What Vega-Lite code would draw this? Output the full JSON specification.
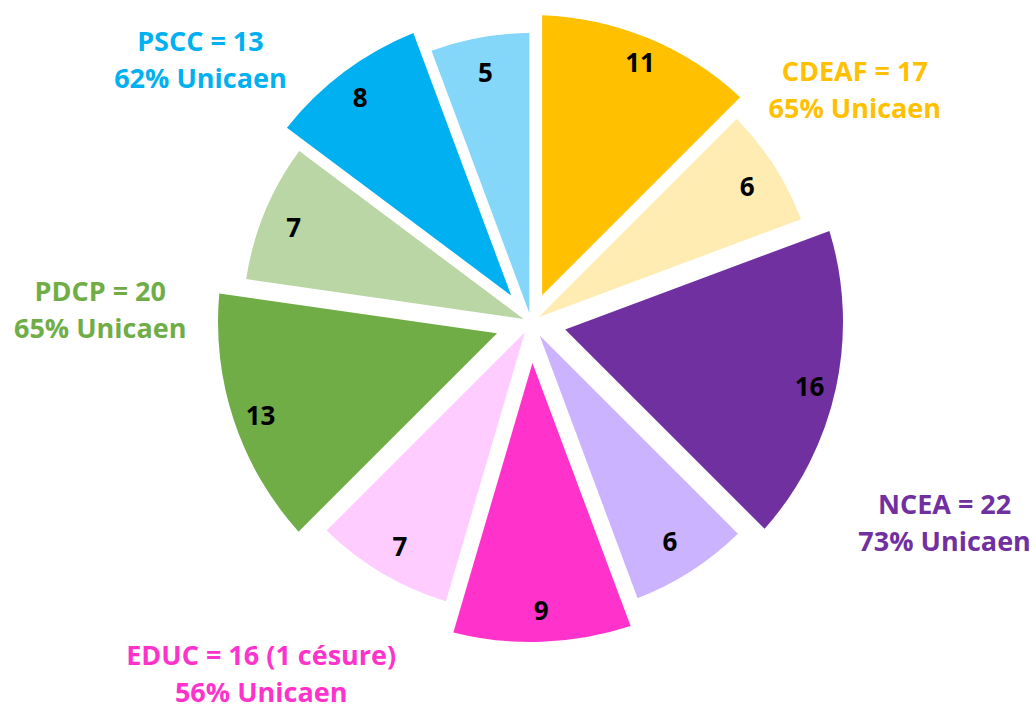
{
  "$schema": "https://vega.github.io/schema/vega-lite/v6.json",
  "width": 1010,
  "height": 644,
  "autosize": "none",
  "padding": {"left": 26, "right": 0, "top": 0, "bottom": 60},
  "background": "white",
  "config": {"view": {"stroke": null}, "text": {"font": "Open Sans", "fontWeight": "bold"}},
  "layer": [
    {
      "data": {"values": [
        {"k": 1, "formation": "CDEAF", "origine": "Unicaen", "part": "CDEAF – Unicaen", "n": 11},
        {"k": 2, "formation": "CDEAF", "origine": "Autre", "part": "CDEAF – Autre", "n": 6},
        {"k": 3, "formation": "NCEA", "origine": "Unicaen", "part": "NCEA – Unicaen", "n": 16},
        {"k": 4, "formation": "NCEA", "origine": "Autre", "part": "NCEA – Autre", "n": 6},
        {"k": 5, "formation": "EDUC", "origine": "Unicaen", "part": "EDUC – Unicaen", "n": 9},
        {"k": 6, "formation": "EDUC", "origine": "Autre", "part": "EDUC – Autre", "n": 7},
        {"k": 7, "formation": "PDCP", "origine": "Unicaen", "part": "PDCP – Unicaen", "n": 13},
        {"k": 8, "formation": "PDCP", "origine": "Autre", "part": "PDCP – Autre", "n": 7},
        {"k": 9, "formation": "PSCC", "origine": "Unicaen", "part": "PSCC – Unicaen", "n": 8},
        {"k": 10, "formation": "PSCC", "origine": "Autre", "part": "PSCC – Autre", "n": 5}
      ]},
      "encoding": {
        "theta": {"field": "n", "type": "quantitative", "stack": true},
        "order": {"field": "k", "type": "quantitative"},
        "color": {
          "field": "part", "type": "nominal", "legend": null,
          "scale": {
            "domain": ["CDEAF – Unicaen", "CDEAF – Autre", "NCEA – Unicaen", "NCEA – Autre", "EDUC – Unicaen", "EDUC – Autre", "PDCP – Unicaen", "PDCP – Autre", "PSCC – Unicaen", "PSCC – Autre"],
            "range": ["#FFC000", "#FFECB3", "#7030A0", "#CCB3FF", "#FF33CC", "#FFCCFF", "#70AD47", "#B9D6A4", "#00B0F0", "#85D7F9"]
          }
        }
      },
      "layer": [
        {"mark": {"type": "arc", "innerRadius": 29, "outerRadius": 307, "padAngle": 0.072}, "encoding": {"opacity": {"condition": {"test": "datum.k == 1", "value": 1}, "value": 0}}},
        {"mark": {"type": "arc", "innerRadius": 9, "outerRadius": 289, "padAngle": 0.0132}, "encoding": {"opacity": {"condition": {"test": "datum.k == 2", "value": 1}, "value": 0}}},
        {"mark": {"type": "arc", "innerRadius": 35, "outerRadius": 312, "padAngle": 0.1206}, "encoding": {"opacity": {"condition": {"test": "datum.k == 3", "value": 1}, "value": 0}}},
        {"mark": {"type": "arc", "innerRadius": 16, "outerRadius": 296, "padAngle": 0.0229}, "encoding": {"opacity": {"condition": {"test": "datum.k == 4", "value": 1}, "value": 0}}},
        {"mark": {"type": "arc", "innerRadius": 41, "outerRadius": 320, "padAngle": 0.0803}, "encoding": {"opacity": {"condition": {"test": "datum.k == 5", "value": 1}, "value": 0}}},
        {"mark": {"type": "arc", "innerRadius": 12, "outerRadius": 292, "padAngle": 0.0203}, "encoding": {"opacity": {"condition": {"test": "datum.k == 6", "value": 1}, "value": 0}}},
        {"mark": {"type": "arc", "innerRadius": 36, "outerRadius": 313, "padAngle": 0.1023}, "encoding": {"opacity": {"condition": {"test": "datum.k == 7", "value": 1}, "value": 0}}},
        {"mark": {"type": "arc", "innerRadius": 8, "outerRadius": 288, "padAngle": 0.0137}, "encoding": {"opacity": {"condition": {"test": "datum.k == 8", "value": 1}, "value": 0}}},
        {"mark": {"type": "arc", "innerRadius": 33, "outerRadius": 312, "padAngle": 0.0593}, "encoding": {"opacity": {"condition": {"test": "datum.k == 9", "value": 1}, "value": 0}}},
        {"mark": {"type": "arc", "innerRadius": 9, "outerRadius": 289, "padAngle": 0.0111}, "encoding": {"opacity": {"condition": {"test": "datum.k == 10", "value": 1}, "value": 0}}},
        {
          "mark": {"type": "text", "radius": 285, "fontSize": 26, "dy": 5, "align": "center", "baseline": "middle"},
          "encoding": {
            "text": {"field": "n", "type": "quantitative"},
            "color": {"value": "black"},
            "opacity": {"condition": {"test": "datum.origine == 'Unicaen'", "value": 1}, "value": 0}
          }
        },
        {
          "mark": {"type": "text", "radius": 257, "fontSize": 26, "dy": 5, "align": "center", "baseline": "middle"},
          "encoding": {
            "text": {"field": "n", "type": "quantitative"},
            "color": {"value": "black"},
            "opacity": {"condition": {"test": "datum.origine == 'Autre'", "value": 1}, "value": 0}
          }
        }
      ]
    },
    {
      "data": {"values": [
        {"k": 1, "formation": "CDEAF", "total": 17, "label": "CDEAF = 17\n65% Unicaen"},
        {"k": 2, "formation": "NCEA", "total": 22, "label": "NCEA = 22\n73% Unicaen"},
        {"k": 3, "formation": "EDUC", "total": 16, "label": "EDUC = 16 (1 césure)\n56% Unicaen"},
        {"k": 4, "formation": "PDCP", "total": 20, "label": "PDCP = 20\n65% Unicaen"},
        {"k": 5, "formation": "PSCC", "total": 13, "label": "PSCC = 13\n62% Unicaen"}
      ]},
      "encoding": {
        "theta": {"field": "total", "type": "quantitative", "stack": true},
        "order": {"field": "k", "type": "quantitative"},
        "text": {"field": "label", "type": "nominal"}
      },
      "layer": [
        {"mark": {"type": "text", "radius": 397, "thetaOffset": 0.334, "dx": 3, "dy": -15, "fontSize": 27, "lineHeight": 37, "lineBreak": "\n", "align": "center", "baseline": "middle", "color": "#FFC000"}, "encoding": {"opacity": {"condition": {"test": "datum.k == 1", "value": 1}, "value": 0}}},
        {"mark": {"type": "text", "radius": 459, "thetaOffset": 0.020, "dy": -15, "fontSize": 27, "lineHeight": 37, "lineBreak": "\n", "align": "center", "baseline": "middle", "color": "#7030A0"}, "encoding": {"opacity": {"condition": {"test": "datum.k == 2", "value": 1}, "value": 0}}},
        {"mark": {"type": "text", "radius": 444, "thetaOffset": 0.439, "dy": -18, "fontSize": 27, "lineHeight": 37, "lineBreak": "\n", "align": "center", "baseline": "middle", "color": "#FF33CC"}, "encoding": {"opacity": {"condition": {"test": "datum.k == 3", "value": 1}, "value": 0}}},
        {"mark": {"type": "text", "radius": 431, "thetaOffset": 0.105, "dy": -15, "fontSize": 27, "lineHeight": 37, "lineBreak": "\n", "align": "center", "baseline": "middle", "color": "#70AD47"}, "encoding": {"opacity": {"condition": {"test": "datum.k == 4", "value": 1}, "value": 0}}},
        {"mark": {"type": "text", "radius": 423, "thetaOffset": -0.433, "dy": -15, "fontSize": 27, "lineHeight": 37, "lineBreak": "\n", "align": "center", "baseline": "middle", "color": "#00B0F0"}, "encoding": {"opacity": {"condition": {"test": "datum.k == 5", "value": 1}, "value": 0}}}
      ]
    }
  ]
}
